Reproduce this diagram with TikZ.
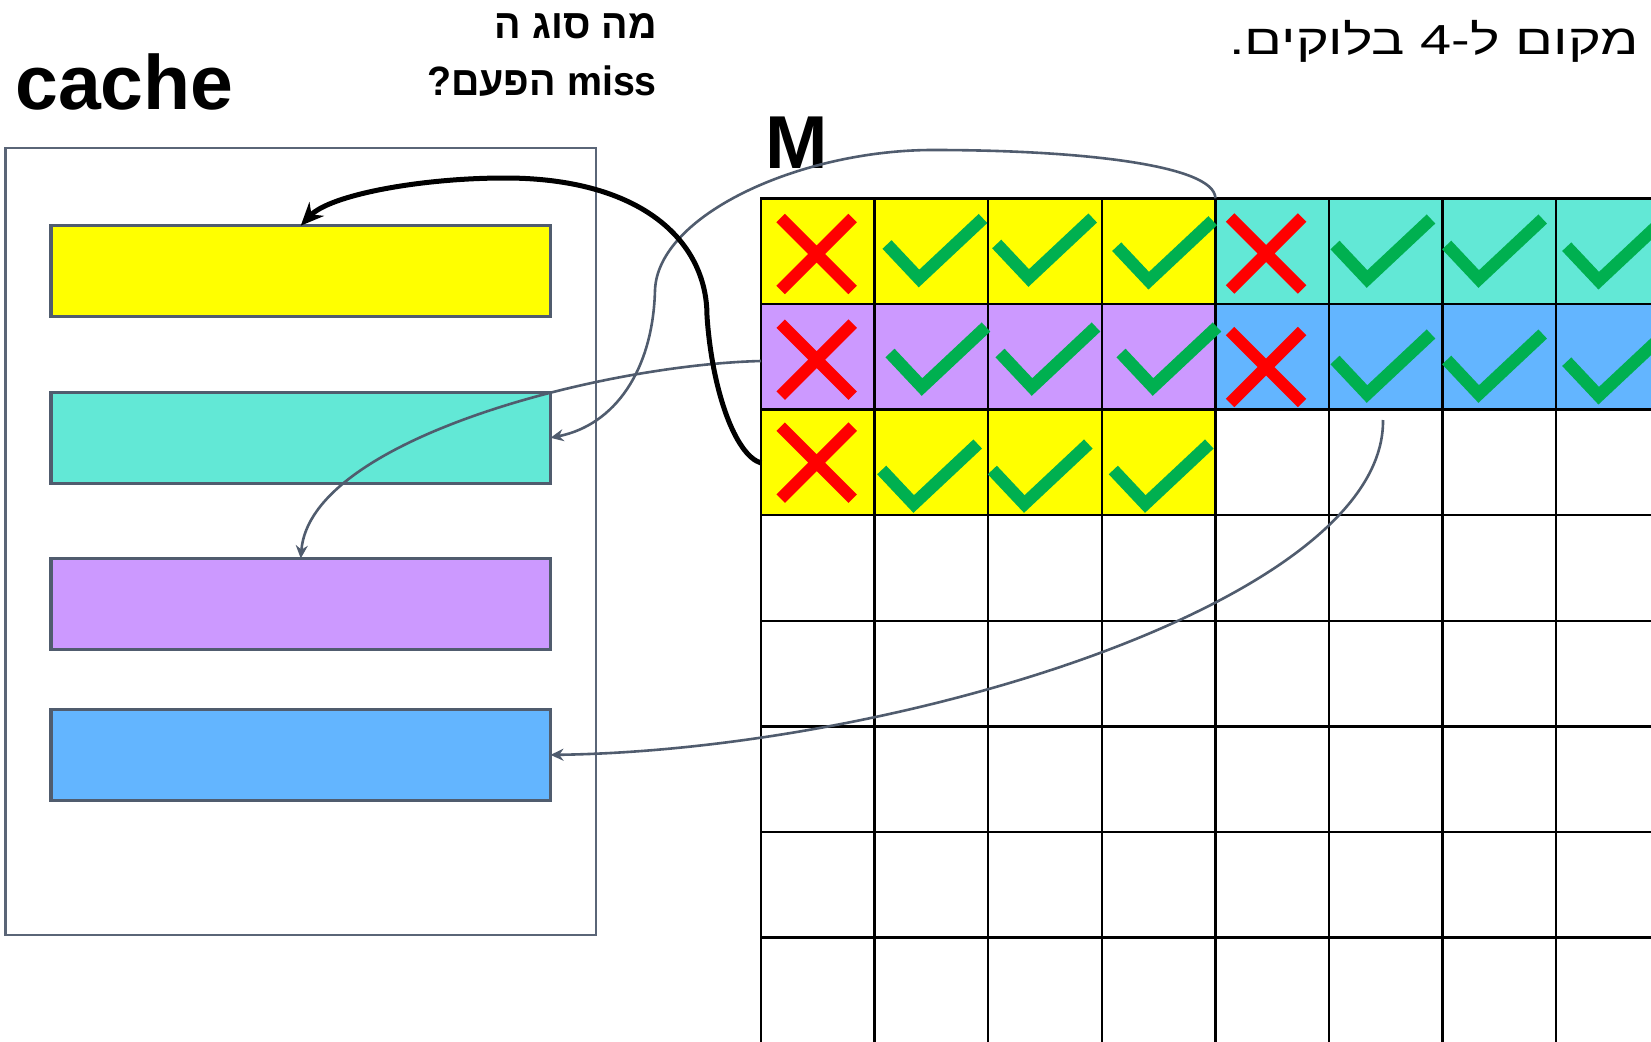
\documentclass[tikz,border=0pt]{standalone}
\usepackage{fontspec}
\setmainfont{Liberation Sans}
\newfontfamily\hebfont[Script=Hebrew,FakeStretch=0.96]{Liberation Sans}
\newfontfamily\hebwide[Script=Hebrew,FakeStretch=1.33]{Liberation Sans}
\TeXXeTstate=1
\usetikzlibrary{arrows.meta}
\definecolor{cyel}{RGB}{255,255,0}
\definecolor{cteal}{RGB}{98,232,214}
\definecolor{cpur}{RGB}{204,153,255}
\definecolor{cblue}{RGB}{99,181,255}
\definecolor{cgreen}{RGB}{0,176,80}
\definecolor{cred}{RGB}{255,0,0}
\definecolor{cslate}{RGB}{80,92,110}
\definecolor{cframe}{RGB}{90,101,119}
\begin{document}
\begin{tikzpicture}[x=1pt,y=-1pt,
  bar/.style={draw=cslate, line width=3.2pt, inner sep=0pt, outer sep=0pt, minimum width=499.5pt, minimum height=91pt},
  gridline/.style={line width=2.4pt, black, line cap=rect},
  xmark/.style={cred, line width=12pt},
  vmark/.style={cgreen, line width=12.5pt, miter limit=10},
  conn/.style={cslate, line width=2.6pt, -{Stealth[length=13pt,width=12pt]}},
  bigconn/.style={black, line width=5pt, -{Stealth[length=23pt,width=20pt]}},
  xpic/.pic={\draw[xmark] (-36,-36) -- (36,36) (-36,36) -- (36,-36);},
  vpic/.pic={\draw[vmark] (0,0) -- (32,34) -- (96,-26);},
]
\useasboundingbox (0,0) rectangle (1651,1041);
\clip (0,0) rectangle (1651,1041);
\fill[white] (0,0) rectangle (1651,1041);

% cache frame and lines
\node[draw=cframe, line width=2.6pt, minimum width=590.7pt, minimum height=787pt, inner sep=0pt, outer sep=0pt] (cachebox) at (300.65,541.5) {};
\node[bar, fill=cyel]  (yellow) at (300.75,271.2) {};
\node[bar, fill=cteal] (teal)   at (300.75,437.8) {};
\node[bar, fill=cpur]  (purple) at (300.75,603.9) {};
\node[bar, fill=cblue] (blue)   at (300.75,754.9) {};

% labels
\node[font=\bfseries\fontsize{77}{77}\selectfont, anchor=base west, inner sep=0pt] (cachelabel) at (15,109.3) {cache};
\node[font=\bfseries\fontsize{75}{75}\selectfont, anchor=base west, inner sep=0pt] (mlabel) at (765,168.3) {M};
\node[font=\hebfont\bfseries\fontsize{41}{41}\selectfont, anchor=base east, inner sep=0pt] (q1) at (657,38.3) {\beginR מה סוג ה\endR};
\node[font=\hebfont\bfseries\fontsize{41}{41}\selectfont, anchor=base east, inner sep=0pt] (q2) at (657,95) {\beginR\beginL miss\endL{} הפעם?\endR};
\node[font=\hebwide\fontsize{42}{42}\selectfont, anchor=base west, inner sep=0pt] (note) at (1229,55) {\beginR יש מקום ל-\beginL 4\endL{} בלוקים.\endR};

% grid fills
\foreach \c in {0,...,3}{
  \fill[cyel] ({761+\c*113.6},198.3) rectangle ++(113.6,105.6);
  \fill[cpur] ({761+\c*113.6},303.9) rectangle ++(113.6,105.6);
  \fill[cyel] ({761+\c*113.6},409.5) rectangle ++(113.6,105.6);
}
\foreach \c in {4,...,7}{
  \fill[cteal] ({761+\c*113.6},198.3) rectangle ++(113.6,105.6);
  \fill[cblue] ({761+\c*113.6},303.9) rectangle ++(113.6,105.6);
}
% grid lines
\foreach \c in {0,...,7}{
  \draw[gridline] ({761+\c*113.6},198.3) -- ({761+\c*113.6},1060);
}
\foreach \r in {0,...,7}{
  \draw[gridline] (761,{198.3+\r*105.6}) -- (1670,{198.3+\r*105.6});
}

% marks
\pic at (816.7,254) {xpic};
\pic at (816.7,359.7) {xpic};
\pic at (816.7,462.7) {xpic};
\pic at (1266,253.5) {xpic};
\pic at (1266,367) {xpic};

\pic at (887,244.5) {vpic};
\pic at (996.7,244) {vpic};
\pic at (1116.7,246.7) {vpic};
\pic at (1335,245) {vpic};
\pic at (1446.7,245) {vpic};
\pic at (1566.7,246.7) {vpic};

\pic at (890,353) {vpic};
\pic at (1000,353) {vpic};
\pic at (1121,353) {vpic};
\pic at (1335,360) {vpic};
\pic at (1446.7,360) {vpic};
\pic at (1566.7,361.7) {vpic};

\pic at (881.7,470) {vpic};
\pic at (992.3,470) {vpic};
\pic at (1113.3,470) {vpic};

% connector end points
\coordinate (aS) at (1215.4,198.3);
\coordinate (bS) at (761,361);
\coordinate (cS) at (1383,420);
\coordinate (dS) at (761,463);

\draw[conn] (aS) .. controls (1215,165) and (1080,150) .. (933,150)
  .. controls (800,150) and (658,215) .. (655,290)
  .. controls (653,370) and (615,425) .. (teal.east);
\draw[conn] (bS) .. controls (600,365) and (310,440) .. (purple.north);
\draw[conn] (cS) .. controls (1385,600) and (900,750) .. (blue.east);
\draw[bigconn] (dS) .. controls (735,455) and (712,390) .. (707,316)
  .. controls (707,240) and (640,178) .. (505,178)
  .. controls (420,178) and (330,195) .. (yellow.north);
\end{tikzpicture}
\end{document}
